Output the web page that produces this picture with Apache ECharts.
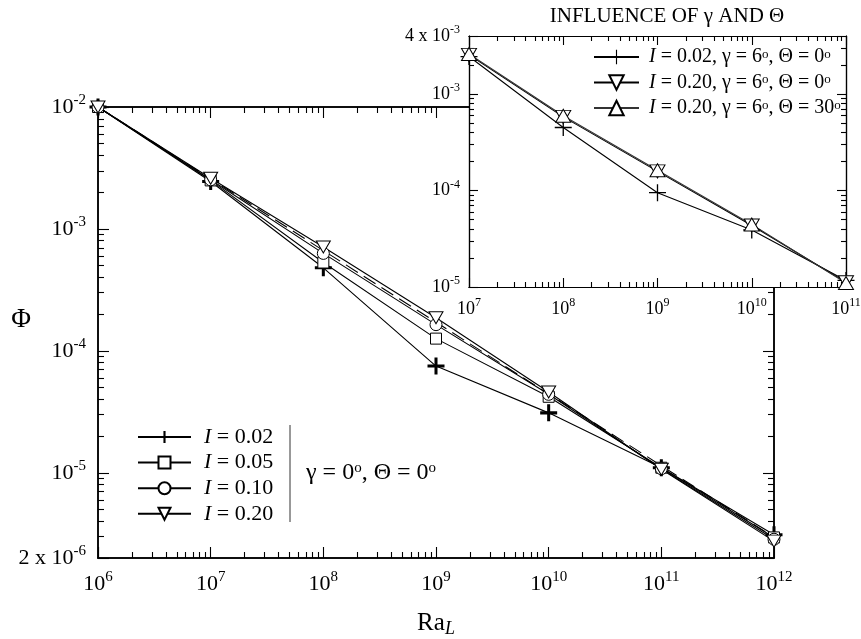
<!DOCTYPE html>
<html><head><meta charset="utf-8">
<script src="https://cdn.jsdelivr.net/npm/echarts@6/dist/echarts.min.js"></script>
<style>html,body{margin:0;padding:0;background:#fff}#c{width:861px;height:639px}</style>
</head><body><div id="c"></div>
<script>
// ---------- data ----------
const raMain = [1e6, 1e7, 1e8, 1e9, 1e10, 1e11, 1e12];
const phiI002 = [1.0e-2, 2.45e-3, 4.8e-4, 7.5e-5, 3.1e-5, 1.1e-5, 3.1e-6];
const phiI005 = [1.0e-2, 2.5e-3, 5.3e-4, 1.26e-4, 4.2e-5, 1.1e-5, 2.95e-6];
const phiI010 = [1.0e-2, 2.53e-3, 6.3e-4, 1.64e-4, 4.4e-5, 1.08e-5, 2.85e-6];
const phiI020 = [1.0e-2, 2.6e-3, 7.1e-4, 1.87e-4, 4.6e-5, 1.07e-5, 2.75e-6];
const raDashed = [1e6, 1e12];
const phiDashed = [1.0e-2, 2.95e-6];
const mainNames = ['I = 0.02', 'I = 0.05', 'I = 0.10', 'I = 0.20'];

const raInset = [1e7, 1e8, 1e9, 1e10, 1e11];
const phiA = [2.45e-3, 4.5e-4, 9.5e-5, 3.9e-5, 1.17e-5];
const phiB = [2.55e-3, 5.8e-4, 1.58e-4, 4.35e-5, 1.12e-5];
const phiC = [2.6e-3, 5.95e-4, 1.62e-4, 4.45e-5, 1.1e-5];
const insetNames = ['I = 0.02, γ = 6°, Θ = 0°', 'I = 0.20, γ = 6°, Θ = 0°', 'I = 0.20, γ = 6°, Θ = 30°'];

const mainXLabels = [1e6, 1e7, 1e8, 1e9, 1e10, 1e11, 1e12];
const mainYLabels = [2e-6, 1e-5, 1e-4, 1e-3, 1e-2];
const insetXLabels = [1e7, 1e8, 1e9, 1e10, 1e11];
const insetYLabels = [1e-5, 1e-4, 1e-3, 4e-3];
const insetTitle = 'INFLUENCE OF γ AND Θ';
const mainNote = 'γ = 0°, Θ = 0°';

// axis ranges
const MAIN_X = [1e6, 1e12], MAIN_Y = [2e-6, 1e-2];
const INS_X = [1e7, 1e11], INS_Y = [1e-5, 4e-3];

// ---------- helpers ----------
const FONT = '"Liberation Serif","Times New Roman",serif';
function powLabel(v) {
  const e = Math.floor(Math.log10(v) + 1e-9);
  const m = Math.round(v / Math.pow(10, e));
  return (m !== 1 ? '{b|' + m + ' x 10}' : '{b|10}') + '{s|' + e + '}';
}
function richLabel(fs, ss, raise) {
  return {
    b: {fontFamily: FONT, fontSize: fs, color: '#000'},
    s: {fontFamily: FONT, fontSize: ss, color: '#000', padding: [0, 0, raise, 0]}
  };
}
function degText(s) {
  let out = '';
  let rest = s;
  if (rest.startsWith('I')) { out += '{i|I}'; rest = rest.slice(1); }
  const parts = rest.split('°');
  parts.forEach((p, i) => {
    if (p.length) out += '{t|' + p + '}';
    if (i < parts.length - 1) out += '{o|o}';
  });
  return out;
}
function legendRich(fs, os, lh, olh) {
  return {
    i: {fontFamily: FONT, fontSize: fs, fontStyle: 'italic', color: '#000', lineHeight: lh},
    t: {fontFamily: FONT, fontSize: fs, color: '#000', lineHeight: lh},
    o: {fontFamily: FONT, fontSize: os, color: '#000', lineHeight: olh, verticalAlign: 'top'}
  };
}
// log10 positions of minor ticks k*10^e (k = 2..9) strictly inside a range
function minorLogs(range) {
  const lo = Math.log10(range[0]), hi = Math.log10(range[1]);
  const out = [];
  for (let e = Math.floor(lo + 1e-9); e < Math.ceil(hi - 1e-9); e++) for (let k = 2; k <= 9; k++) {
    const v = e + Math.log10(k);
    if (v > lo + 1e-6 && v < hi - 1e-6) out.push(v);
  }
  return out;
}

const plusMain = 'path://M7.4,0H10.6V7.4H18V10.6H10.6V18H7.4V10.6H0V7.4H7.4Z';
const plusInset = 'path://M8.3,0H9.7V8.3H18V9.7H9.7V18H8.3V9.7H0V8.3H8.3Z';
const triDown = 'path://M0,0L14,0L7,12Z';
const triUp = 'path://M7,0L14,12L0,12Z';

function makeAxis(grid, pos, range, labelVals, opts) {
  const ax = {
    type: 'log', logBase: 10, gridIndex: grid, position: pos, min: range[0], max: range[1],
    splitLine: {show: false}, z: opts.z, silent: true,
    axisLine: {show: true, lineStyle: {color: '#000', width: opts.lw}},
    axisTick: {show: true, inside: true, length: opts.major, lineStyle: {color: '#000', width: 1.1}},
    axisLabel: labelVals ? {
      show: true, customValues: labelVals, formatter: powLabel, margin: opts.margin,
      rich: richLabel(opts.fs, opts.ss, opts.raise)
    } : {show: false}
  };
  if (opts.name) Object.assign(ax, opts.name);
  return ax;
}
// tick-only companion axis (log10 space) that carries the 2..9 minor ticks
function minorAxis(grid, pos, range, opts) {
  return {
    type: 'value', gridIndex: grid, position: pos,
    min: Math.log10(range[0]), max: Math.log10(range[1]), z: opts.z,
    splitLine: {show: false},
    axisLine: {show: true, lineStyle: {color: '#000', width: opts.lw}},
    axisTick: {show: true, inside: true, length: opts.minor, customValues: minorLogs(range),
      lineStyle: {color: '#000', width: 1.1}},
    axisLabel: {show: true, formatter: function () { return ' '; }, fontSize: 1, color: '#fff'}
  };
}

const mainOpts = {z: 0, lw: 1.5, major: 11, minor: 6, margin: 12, fs: 22, ss: 15, raise: 14};
const insetOpts = {z: 6, lw: 1.2, major: 9, minor: 5, margin: 10, fs: 18, ss: 12, raise: 12};

const xAxes = [
  makeAxis(0, 'bottom', MAIN_X, mainXLabels, Object.assign({}, mainOpts, {
    name: {name: '{a|Ra}{l|L}', nameLocation: 'middle', nameGap: 50,
      nameTextStyle: {rich: {
        a: {fontFamily: FONT, fontSize: 25, color: '#000'},
        l: {fontFamily: FONT, fontSize: 18, fontStyle: 'italic', color: '#000', padding: [12, 0, 0, 0]}
      }}}
  })),
  makeAxis(0, 'top', MAIN_X, null, mainOpts),
  makeAxis(1, 'bottom', INS_X, insetXLabels, insetOpts),
  makeAxis(1, 'top', INS_X, null, insetOpts),
  minorAxis(0, 'bottom', MAIN_X, mainOpts),
  minorAxis(0, 'top', MAIN_X, mainOpts),
  minorAxis(1, 'bottom', INS_X, insetOpts),
  minorAxis(1, 'top', INS_X, insetOpts)
];
const yAxes = [
  makeAxis(0, 'left', MAIN_Y, mainYLabels, Object.assign({}, mainOpts, {
    name: {name: '{p|Φ}', nameLocation: 'middle', nameGap: 67, nameRotate: 0, nameMoveOverlap: false,
      nameTextStyle: {rich: {p: {fontFamily: FONT, fontSize: 27, color: '#000', padding: [0, 0, 26, 0]}}}}
  })),
  makeAxis(0, 'right', MAIN_Y, null, mainOpts),
  makeAxis(1, 'left', INS_Y, insetYLabels, Object.assign({}, insetOpts, {margin: 9})),
  makeAxis(1, 'right', INS_Y, null, insetOpts),
  minorAxis(0, 'left', MAIN_Y, mainOpts),
  minorAxis(0, 'right', MAIN_Y, mainOpts),
  minorAxis(1, 'left', INS_Y, insetOpts),
  minorAxis(1, 'right', INS_Y, insetOpts)
];

function pairs(xs, ys) { return xs.map((x, i) => [x, ys[i]]); }
const hollow = {color: '#fff', borderColor: '#000', borderWidth: 1};

function lineSeries(name, xs, ys, grid, symbol, size, itemStyle, z, lw, lc) {
  return {
    name: name, type: 'line', xAxisIndex: grid === 0 ? 0 : 2, yAxisIndex: grid === 0 ? 0 : 2,
    data: pairs(xs, ys), symbol: symbol, symbolSize: size, showSymbol: true,
    itemStyle: itemStyle, lineStyle: {color: lc || '#000', width: lw || 1.1},
    z: z, animation: false, silent: true
  };
}

const series = [
  {name: 'dashed', type: 'line', xAxisIndex: 0, yAxisIndex: 0, data: pairs(raDashed, phiDashed),
   symbol: 'none', lineStyle: {color: '#000', width: 1.1, type: [14, 7]}, z: 2, animation: false, silent: true},
  lineSeries(mainNames[0], raMain, phiI002, 0, plusMain, 17, {color: '#000', borderWidth: 0}, 2),
  lineSeries(mainNames[1], raMain, phiI005, 0, 'rect', 11, hollow, 2),
  lineSeries(mainNames[2], raMain, phiI010, 0, 'circle', 12, hollow, 2),
  lineSeries(mainNames[3], raMain, phiI020, 0, triDown, [14, 12], hollow, 2),
  lineSeries(insetNames[0], raInset, phiA, 1, plusInset, 17, {color: '#000', borderWidth: 0}, 7),
  lineSeries(insetNames[1], raInset, phiB, 1, triDown, [15, 13], hollow, 7),
  lineSeries(insetNames[2], raInset, phiC, 1, triUp, [15, 13], hollow, 7, 1.1, '#333')
];

const option = {
  backgroundColor: '#fff',
  animation: false,
  textStyle: {fontFamily: FONT, color: '#000'},
  title: {text: insetTitle, left: 662, top: 1, textAlign: 'center',
    textStyle: {fontFamily: FONT, fontSize: 21, fontWeight: 'normal', color: '#000'}},
  grid: [
    {left: 98, top: 107, width: 676, height: 451, outerBoundsMode: 'none', containLabel: false},
    {left: 469, top: 36, width: 377, height: 251, outerBoundsMode: 'none', containLabel: false,
     show: true, backgroundColor: '#fff', borderWidth: 0, z: 5}
  ],
  xAxis: xAxes,
  yAxis: yAxes,
  legend: [
    {data: mainNames, left: 132, top: 421, orient: 'vertical', itemWidth: 53, itemHeight: 15, itemGap: 3.6,
     selectedMode: false, z: 10,
     formatter: degText, textStyle: {padding: [0, 0, 0, 8], rich: legendRich(22, 14, 20, 8)}},
    {data: insetNames, left: 588, top: 42, orient: 'vertical', itemWidth: 45, itemHeight: 18, itemGap: 5.5,
     selectedMode: false, z: 10,
     formatter: degText, textStyle: {padding: [0, 0, 0, 5], rich: legendRich(20, 13, 18, 8)}}
  ],
  graphic: [
    {type: 'line', shape: {x1: 290, y1: 425, x2: 290, y2: 522}, style: {stroke: '#333', lineWidth: 1}, z: 10},
    {type: 'text', left: 306, top: 461, z: 10,
     style: {text: degText(mainNote), rich: legendRich(24, 15, 24, 10)}}
  ],
  series: series
};

const chart = echarts.init(document.getElementById('c'), null, {renderer: 'canvas'});
chart.setOption(option);
</script>
</body></html>
